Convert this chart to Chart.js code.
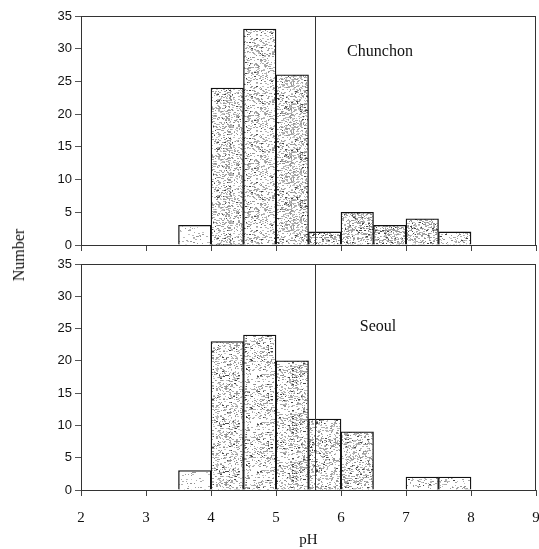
<!DOCTYPE html>
<html>
<head>
<meta charset="utf-8">
<script src="https://cdn.jsdelivr.net/npm/chart.js@4/dist/chart.umd.min.js"></script>
<style>
  body { margin: 0; background: #fff; width: 539px; height: 549px; position: relative; overflow: hidden; }
  #topBox { position: absolute; left: 0; top: 0; width: 539px; height: 260px; }
  #botBox { position: absolute; left: 0; top: 250px; width: 539px; height: 299px; }
  #ylab { position: absolute; left: 19px; top: 255px; transform: translate(-50%, -50%) rotate(-90deg);
          font: 16px "Liberation Serif", serif; color: #111; white-space: nowrap; }
</style>
</head>
<body>
<div id="topBox"><canvas id="topChart"></canvas></div>
<div id="botBox"><canvas id="botChart"></canvas></div>
<div id="ylab">Number</div>
<script>
// histogram bins (pH, bin centres, 0.5 wide)
const binCenters = [3.75, 4.25, 4.75, 5.25, 5.75, 6.25, 6.75, 7.25, 7.75];
const chunchon = [3, 24, 33, 26, 2, 5, 3, 4, 2];
const seoul = [3, 23, 24, 20, 11, 9, null, 2, 2];
const refPH = 5.6;

// stipple density per bar (style only)
const chunchonDots = [0.06, 0.3, 0.22, 0.34, 0.34, 0.38, 0.42, 0.32, 0.2];
const seoulDots = [0.05, 0.22, 0.2, 0.28, 0.28, 0.3, 0.14, 0.12, 0.12];

function stipple(density, seed) {
    const c = document.createElement('canvas');
    c.width = c.height = 48;
    const g = c.getContext('2d');
    g.fillStyle = '#fff';
    g.fillRect(0, 0, 48, 48);
    let s = seed;
    const rnd = () => { s = (s * 16807) % 2147483647; return s / 2147483647; };
    const n = Math.round(48 * 48 * density);
    for (let i = 0; i < n; i++) {
        const x = Math.floor(rnd() * 48), y = Math.floor(rnd() * 48);
        const v = rnd() < 0.08 ? 70 : Math.round(140 + rnd() * 60);
        g.fillStyle = `rgb(${v},${v},${v})`;
        g.fillRect(x, y, rnd() < 0.5 ? 2 : 1, 1);
    }
    return g.createPattern(c, 'repeat');
}

const panelDeco = {
    id: 'panelDeco',
    afterDatasetsDraw(chart, args, opts) {
        const { ctx, chartArea: a, scales: { x, y } } = chart;
        ctx.save();
        ctx.strokeStyle = '#333';
        ctx.lineWidth = 1;
        ctx.strokeRect(a.left + 0.5, a.top + 0.5, a.right - a.left - 1, a.bottom - a.top);
        const px = Math.round(x.getPixelForValue(refPH)) + 0.5;
        ctx.beginPath();
        ctx.moveTo(px, a.top);
        ctx.lineTo(px, a.bottom);
        ctx.stroke();
        ctx.font = '16px "Liberation Serif", serif';
        ctx.fillStyle = '#111';
        ctx.textAlign = 'center';
        ctx.textBaseline = 'middle';
        ctx.fillText(opts.label, x.getPixelForValue(opts.lx), y.getPixelForValue(opts.ly));
        ctx.restore();
    }
};

function makeChart(id, values, dots, label, lx, ly, isBottom) {
    return new Chart(document.getElementById(id), {
        type: 'bar',
        data: {
            datasets: [{
                data: binCenters.map((c, i) => ({ x: c, y: values[i] })),
                backgroundColor: dots.map((d, i) => stipple(d, 97 + i * 131 + (isBottom ? 7 : 0))),
                borderColor: '#111',
                borderWidth: 1.3,
                borderSkipped: 'bottom',
                barPercentage: 1,
                categoryPercentage: 1,
            }]
        },
        options: {
            responsive: true,
            maintainAspectRatio: false,
            animation: false,
            layout: { padding: { top: isBottom ? 14 : 16, right: 3, left: 0, bottom: 0 } },
            plugins: {
                legend: { display: false },
                tooltip: { enabled: false },
                panelDeco: { label: label, lx: lx, ly: ly }
            },
            scales: {
                x: {
                    type: 'linear',
                    min: 2,
                    max: 9,
                    offset: false,
                    grid: { offset: false, drawOnChartArea: false, tickLength: 6, color: '#444' },
                    border: { color: '#444' },
                    ticks: {
                        display: isBottom,
                        stepSize: 1,
                        maxRotation: 0,
                        padding: 13,
                        color: '#111',
                        font: { family: '"Liberation Serif", serif', size: 15 }
                    },
                    title: {
                        display: isBottom,
                        text: 'pH',
                        color: '#111',
                        padding: { top: 0, bottom: 0 },
                        font: { family: '"Liberation Serif", serif', size: 15 }
                    },
                    afterFit(s) {
                        s.height = isBottom ? 59 : 15;
                        s.paddingLeft = 0;
                        s.paddingRight = 0;
                    }
                },
                y: {
                    min: 0,
                    max: 35,
                    grid: { drawOnChartArea: false, tickLength: 6, color: '#555' },
                    border: { color: '#555' },
                    ticks: {
                        stepSize: 5,
                        padding: 3,
                        color: '#111',
                        font: { family: '"Liberation Sans", Arial, sans-serif', size: 13 }
                    },
                    afterFit(s) { s.width = 81; }
                }
            }
        },
        plugins: [panelDeco]
    });
}

makeChart('topChart', chunchon, chunchonDots, 'Chunchon', 6.6, 29.5, false);
makeChart('botChart', seoul, seoulDots, 'Seoul', 6.57, 25.2, true);
</script>
</body>
</html>
